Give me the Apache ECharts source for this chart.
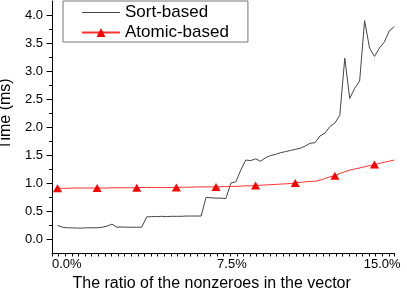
<!DOCTYPE html>
<html><head><meta charset="utf-8">
<script src="https://cdn.jsdelivr.net/npm/echarts@6/dist/echarts.min.js"></script>
<style>html,body{margin:0;padding:0;background:#fff}#c{width:407px;height:294px}</style>
</head><body><div id="c"></div>
<script>
const xValues = [0.25,0.475,0.7,0.925,1.15,1.375,1.6,1.825,2.05,2.275,
  2.5,2.725,2.95,3.175,3.4,3.625,3.85,4.075,4.3,4.525,
  4.75,4.975,5.2,5.425,5.65,5.875,6.1,6.325,6.55,6.775,
  7.0,7.225,7.45,7.675,7.9,8.125,8.35,8.575,8.8,9.025,
  9.25,9.475,9.7,9.925,10.15,10.375,10.6,10.825,11.05,11.275,
  11.5,11.725,11.95,12.175,12.4,12.625,12.85,13.075,13.3,13.525,
  13.75,13.975,14.2,14.425,14.65,14.875,15.1,15.325,15.55];
const sortBased = [0.245,0.21,0.20,0.20,0.195,0.195,0.20,0.20,0.20,0.21,
  0.23,0.265,0.21,0.215,0.21,0.21,0.21,0.21,0.395,0.40,
  0.40,0.405,0.40,0.405,0.405,0.405,0.41,0.41,0.41,0.41,
  0.745,0.735,0.73,0.73,0.72,1.0,1.02,1.23,1.41,1.40,
  1.43,1.39,1.45,1.49,1.51,1.54,1.56,1.58,1.60,1.62,
  1.66,1.71,1.72,1.84,1.89,2.01,2.07,2.21,3.23,2.51,
  2.69,2.82,3.90,3.41,3.26,3.41,3.52,3.72,3.79];
const atomicBased = [0.905,0.905,0.905,0.91,0.91,0.91,0.91,0.91,0.91,0.91,
  0.91,0.915,0.915,0.915,0.915,0.915,0.915,0.92,0.92,0.92,
  0.92,0.92,0.92,0.92,0.92,0.925,0.925,0.925,0.93,0.93,
  0.93,0.93,0.93,0.935,0.935,0.94,0.94,0.945,0.95,0.95,
  0.955,0.96,0.965,0.97,0.975,0.98,0.985,0.99,1.0,1.01,
  1.02,1.03,1.03,1.05,1.08,1.11,1.13,1.17,1.20,1.23,
  1.25,1.27,1.29,1.31,1.33,1.35,1.37,1.39,1.41];
const markerEvery = 8;
const xTickValues = [0, 7.5, 15];
const xTickLabels = ['0.0%', '7.5%', '15.0%'];
const yTickValues = [0, 0.5, 1, 1.5, 2, 2.5, 3, 3.5, 4];
const yTickLabels = ['0.0','0.5','1.0','1.5','2.0','2.5','3.0','3.5','4.0'];
const yMinorTicks = [0.25, 0.75, 1.25, 1.75, 2.25, 2.75, 3.25, 3.75];

const chart = echarts.init(document.getElementById('c'), null, {renderer: 'canvas'});
const black = '#000';
function labelFor(vals, labs, v) {
  let best = 0;
  vals.forEach((t, i) => { if (Math.abs(t - v) < Math.abs(vals[best] - v)) best = i; });
  return labs[best];
}
chart.setOption({
  animation: false,
  textStyle: {fontFamily: 'Liberation Sans, Arial, sans-serif'},
  grid: {left: 52, top: 1, width: 342.3, height: 252, containLabel: false, outerBoundsMode: 'none'},
  legend: {
    orient: 'vertical', left: 63, top: 1,
    padding: [3, 19, 1, 18], itemGap: 3, itemWidth: 38, itemHeight: 11,
    borderColor: '#777', borderWidth: 1, backgroundColor: '#fff',
    textStyle: {fontSize: 17, color: black, fontFamily: 'Liberation Sans, Arial, sans-serif'},
    data: [{name: 'Sort-based', icon: 'path://M0,5L38,5L38,6L0,6Z'}, {name: 'Atomic-based'}]
  },
  xAxis: {
    type: 'value', min: 0, max: 15.55, interval: 0.3,
    name: 'The ratio of the nonzeroes in the vector', nameLocation: 'middle', nameGap: 17,
    nameTextStyle: {fontSize: 16, color: black, padding: [0, 23, 0, 0]},
    axisLine: {show: true, onZero: false, lineStyle: {color: black, width: 1}},
    axisTick: {show: true, inside: false, length: 3.5, lineStyle: {color: black}},
    axisLabel: {
      customValues: xTickValues, fontSize: 13, color: black, margin: 5,
      align: 'left', alignMaxLabel: 'center',
      formatter: v => labelFor(xTickValues, xTickLabels, v)
    },
    splitLine: {show: false}
  },
  yAxis: [{
    type: 'value', min: -0.25, max: 4.25, position: 'left',
    name: 'Time (ms)', nameLocation: 'middle', nameGap: 32,
    nameTextStyle: {fontSize: 16, color: black, padding: [0, 0, 0, 26]},
    axisLine: {show: true, onZero: false, lineStyle: {color: black, width: 1}},
    axisTick: {show: true, customValues: yTickValues, length: 5.5, lineStyle: {color: black}},
    axisLabel: {customValues: yTickValues, fontSize: 13, color: black, margin: 9,
      formatter: v => labelFor(yTickValues, yTickLabels, v)},
    splitLine: {show: false}
  }, {
    type: 'value', min: -0.25, max: 4.25, position: 'left', offset: 0,
    axisLine: {show: false},
    axisTick: {show: true, customValues: yMinorTicks, length: 3, lineStyle: {color: black}},
    axisLabel: {show: false},
    splitLine: {show: false}
  }],
  series: [{
    name: 'Sort-based', type: 'line', yAxisIndex: 0,
    data: xValues.map((x, i) => [x, sortBased[i]]),
    symbol: 'none', lineStyle: {color: '#444', width: 1}, itemStyle: {color: '#444'}
  }, {
    name: 'Atomic-based', type: 'line', yAxisIndex: 0,
    data: xValues.map((x, i) => i % markerEvery === 0 ? [x, atomicBased[i]] : {value: [x, atomicBased[i]], symbol: 'none'}),
    symbol: 'triangle', symbolSize: [9, 8], showSymbol: true, showAllSymbol: true,
    lineStyle: {color: '#ff3030', width: 1}, itemStyle: {color: '#ff0000'}
  }]
});
</script></body></html>
